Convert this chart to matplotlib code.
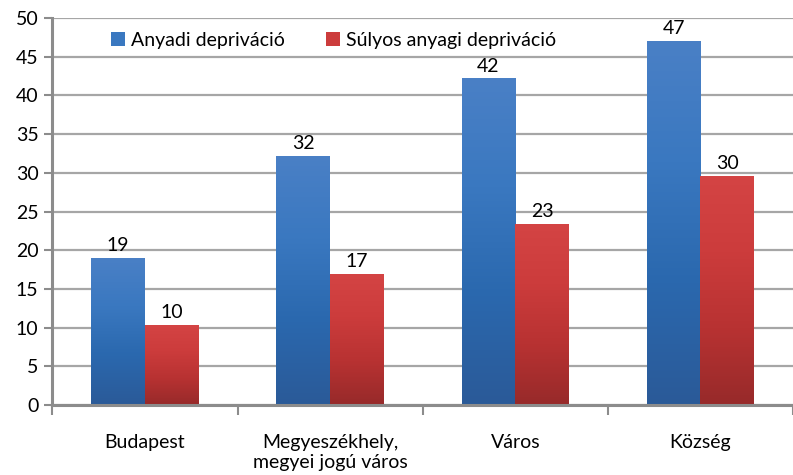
import numpy as np
import matplotlib
matplotlib.use("Agg")
from matplotlib import pyplot as plt
from matplotlib.colors import LinearSegmentedColormap

# Data
categories = ["Budapest", "Megyeszékhely,\nmegyei jogú város", "Város", "Község"]
anyagi = [19.0, 32.2, 42.2, 47.1]
sulyos = [10.4, 17.0, 23.4, 29.6]
anyagi_labels = ["19", "32", "42", "47"]
sulyos_labels = ["10", "17", "23", "30"]
series_names = ["Anyadi depriváció", "Súlyos anyagi depriváció"]

plt.rcParams['font.family'] = ['Lato', 'DejaVu Sans']
fs = 14

fig = plt.figure(figsize=(7.93, 4.75), dpi=100)
ax = fig.add_axes([0.066, 0.147, 0.934, 0.815])

x = np.arange(len(categories))
w = 0.29

# gradients (top -> bottom)
blue_cmap = LinearSegmentedColormap.from_list("b", ["#2b5a98", "#2a68ae", "#3a78c0", "#4a80c6"])
red_cmap = LinearSegmentedColormap.from_list("r", ["#972a2a", "#b83232", "#cc3c3c", "#d44444"])


def gradient_bars(xs, heights, cmap, color):
    bars = ax.bar(xs, heights, w, color=color, zorder=3, linewidth=0)
    grad = np.linspace(0, 1, 256).reshape(-1, 1)
    for b in bars:
        x0, y0 = b.get_x(), b.get_y()
        im = ax.imshow(grad, cmap=cmap, origin="lower", aspect="auto",
                       extent=[x0, x0 + b.get_width(), y0, y0 + b.get_height()],
                       zorder=4)
        im.set_clip_path(b)
    return bars


b1 = gradient_bars(x - w / 2, anyagi, blue_cmap, "#3a78c0")
b2 = gradient_bars(x + w / 2, sulyos, red_cmap, "#cc3c3c")

for xi, h, t in zip(x - w / 2, anyagi, anyagi_labels):
    ax.text(xi, h + 0.5, t, ha="center", va="bottom", fontsize=fs, zorder=5)
for xi, h, t in zip(x + w / 2, sulyos, sulyos_labels):
    ax.text(xi, h + 0.5, t, ha="center", va="bottom", fontsize=fs, zorder=5)

ax.set_xlim(-0.5, 3.5)
ax.set_ylim(0, 50)
ax.set_yticks(range(0, 51, 5))
ax.tick_params(axis="y", labelsize=fs, length=6, width=1.5, color="#8c8c8c", pad=4)

ax.set_xticks(np.arange(-0.5, 3.6, 1.0))
ax.set_xticklabels([])
ax.set_xticks(x, minor=True)
ax.set_xticklabels(categories, minor=True, fontsize=fs, linespacing=1.2)
ax.tick_params(axis="x", which="major", length=7, width=1.5, color="#8c8c8c")
ax.tick_params(axis="x", which="minor", length=0, pad=21)

ax.grid(axis="y", color="#a6a6a6", linewidth=1.6, zorder=0)
for s in ["top", "right"]:
    ax.spines[s].set_visible(False)
for s in ["left", "bottom"]:
    ax.spines[s].set_color("#8c8c8c")
    ax.spines[s].set_linewidth(2.2)
ax.spines["bottom"].set_zorder(6)

leg = ax.legend([b1, b2], series_names, loc="upper left", bbox_to_anchor=(0.055, 1.01),
                ncol=2, frameon=False, fontsize=fs, handlelength=0.75, handleheight=0.75,
                handletextpad=0.3, columnspacing=2.1)

plt.savefig("out.png", dpi=100)
